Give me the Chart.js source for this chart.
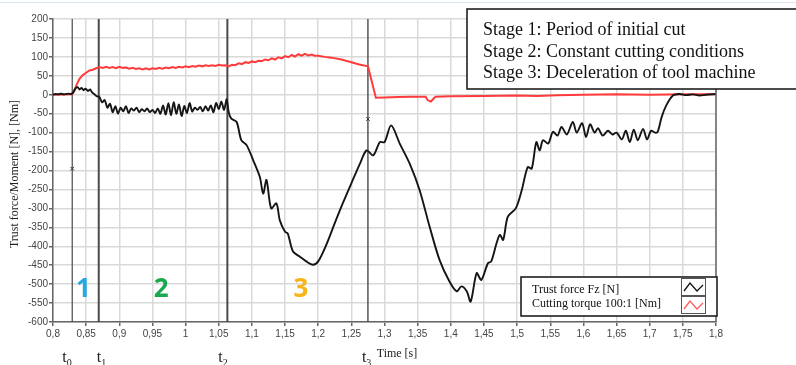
<!DOCTYPE html>
<html>
<head>
<meta charset="utf-8">
<script src="https://cdn.jsdelivr.net/npm/chart.js@4"></script>
<style>
  body { margin: 0; background: #fff; }
  #wrap { position: relative; width: 796px; height: 365px; }
</style>
</head>
<body>
<div id="wrap"><canvas id="forceChart"></canvas></div>
<script>
// Thrust force Fz [N] - time [s] / value
const forceTime = [
  0.800, 0.804, 0.808, 0.812, 0.816, 0.820, 0.824, 0.828, 0.831, 0.834, 0.837, 0.840, 0.843, 0.846,
  0.849, 0.853, 0.856, 0.859, 0.862, 0.866, 0.870, 0.874, 0.878, 0.882, 0.886, 0.890, 0.894, 0.898,
  0.902, 0.906, 0.910, 0.914, 0.918, 0.922, 0.926, 0.930, 0.934, 0.938, 0.942, 0.946, 0.950, 0.954,
  0.958, 0.962, 0.966, 0.970, 0.974, 0.978, 0.982, 0.986, 0.990, 0.994, 0.998, 1.002, 1.006, 1.010,
  1.014, 1.018, 1.022, 1.026, 1.030, 1.034, 1.038, 1.042, 1.046, 1.050, 1.054, 1.058, 1.062, 1.065,
  1.069, 1.077, 1.084, 1.092, 1.102, 1.112, 1.117, 1.122, 1.129, 1.137, 1.142, 1.150, 1.154, 1.162,
  1.172, 1.182, 1.192, 1.200, 1.212, 1.225, 1.237, 1.250, 1.263, 1.273, 1.283, 1.293, 1.300, 1.310,
  1.323, 1.338, 1.353, 1.368, 1.383, 1.398, 1.409, 1.416, 1.424, 1.430, 1.439, 1.446, 1.456, 1.461,
  1.469, 1.474, 1.479, 1.486, 1.498, 1.507, 1.516, 1.522, 1.529, 1.534, 1.539, 1.547, 1.554, 1.561,
  1.567, 1.575, 1.584, 1.590, 1.598, 1.604, 1.610, 1.617, 1.622, 1.629, 1.637, 1.644, 1.650, 1.658,
  1.664, 1.670, 1.676, 1.682, 1.690, 1.696, 1.702, 1.708, 1.712, 1.718, 1.725, 1.735, 1.745, 1.755,
  1.765, 1.775, 1.785, 1.800
];
const forceValues = [
  0, 2, 1, 3, 1, 2, 3, 2, 8, 17, 20, 14, 18, 12,
  16, 10, 14, 6, 2, -4, -6, -20, -14, -34, -24, -46, -30, -50,
  -34, -44, -30, -48, -36, -42, -34, -46, -38, -44, -36, -46, -40, -48,
  -36, -50, -28, -52, -22, -54, -20, -50, -26, -56, -30, -48, -22, -44,
  -34, -40, -32, -44, -30, -42, -28, -46, -22, -38, -18, -40, -12, -46,
  -63, -72, -120, -133, -173, -217, -261, -225, -300, -287, -331, -362, -366, -414,
  -427, -440, -449, -440, -397, -339, -287, -234, -182, -147, -160, -125, -125, -81,
  -129, -182, -252, -348, -436, -493, -519, -506, -519, -546, -471, -489, -445, -440,
  -392, -370, -383, -322, -300, -252, -191, -195, -125, -147, -120, -129, -98, -108,
  -85, -105, -72, -100, -75, -112, -78, -100, -88, -108, -95, -105, -100, -118,
  -95, -125, -92, -120, -90, -118, -95, -100, -98, -59, -28, -2, 2, -1,
  1, -2, 0, 2
];

// Cutting torque 100:1 [Nm] - time [s] / value
const torqueTime = [
  0.800, 0.829, 0.832, 0.836, 0.840, 0.845, 0.850, 0.855, 0.860, 0.865,
  0.870, 0.875, 0.880, 0.885, 0.890, 0.895, 0.900, 0.905, 0.910, 0.915, 0.920, 0.925, 0.930, 0.935,
  0.940, 0.945, 0.950, 0.955, 0.960, 0.965, 0.970, 0.975, 0.980, 0.985, 0.990, 0.995, 1.000, 1.005,
  1.010, 1.015, 1.020, 1.025, 1.030, 1.035, 1.040, 1.045, 1.050, 1.055, 1.060, 1.065, 1.070, 1.075,
  1.080, 1.085, 1.090, 1.095, 1.100, 1.105, 1.110, 1.115, 1.120, 1.125, 1.130, 1.135, 1.140, 1.145,
  1.150, 1.155, 1.160, 1.165, 1.170, 1.175, 1.180, 1.185, 1.190, 1.195, 1.200, 1.210, 1.220, 1.235,
  1.250, 1.262, 1.275, 1.287, 1.300, 1.320, 1.340, 1.362, 1.365, 1.370, 1.374, 1.377, 1.400, 1.450,
  1.500, 1.530, 1.560, 1.600, 1.650, 1.700, 1.750, 1.800
];
const torqueValues = [
  0, 1, 10, 28, 42, 52, 58, 64, 66, 70,
  73, 71, 74, 71, 73, 70, 74, 71, 72, 69, 71, 68, 70, 67,
  70, 67, 70, 68, 71, 69, 72, 70, 73, 71, 74, 72, 75, 73,
  76, 74, 77, 75, 78, 76, 78, 76, 79, 77, 78, 75, 79, 78,
  83, 81, 86, 84, 88, 86, 90, 89, 93, 91, 96, 93, 99, 96,
  102, 99, 105, 101, 107, 103, 108, 104, 106, 103, 103, 100, 98, 93,
  86, 80, 75, -8, -7, -6, -5, -5, -14, -18, -10, -5, -4, -3,
  -2, -3, -1, 0, 1, 0, 1, 1
];

// stage boundaries t0..t3 and the two small cross marks
const stageNames = ['0', '1', '2', '3'];
const stageTimes = [0.829, 0.869, 1.063, 1.275];
const markTimes = [0.829, 1.275];
const markValues = [-195, -64];

const stageText = [
  'Stage 1: Period of initial cut',
  'Stage 2: Constant cutting conditions',
  'Stage 3: Deceleration of tool machine'
];
const legendText = ['Trust force Fz [N]', 'Cutting torque 100:1 [Nm]'];

const xMin = 0.8, xMax = 1.8, xStep = 0.05;
const yMin = -600, yMax = 200, yStep = 50;

const tickFont = { family: "'Liberation Sans Narrow', 'Arial Narrow', 'Liberation Sans', sans-serif", size: 10 };
const serif = "'Liberation Serif', 'Times New Roman', serif";

function toPoints(xs, ys) {
  return xs.map((x, i) => ({ x: x, y: ys[i] }));
}

// stage lines go through the whole plot height
const stageLineSets = stageTimes.map((t, i) => ({
  data: [{ x: t, y: yMin }, { x: t, y: yMax }],
  borderColor: '#4a4a4a',
  borderWidth: i === 0 ? 1.2 : (i === 3 ? 1.4 : 2),
  pointRadius: 0
}));

// Draws the texts, boxes and labels that are not part of the axes
const decorPlugin = {
  id: 'decor',
  beforeDraw(chart) {
    const ctx = chart.ctx;
    ctx.save();
    ctx.fillStyle = '#dbe6f3';
    ctx.fillRect(0, 2, chart.width, 1);
    ctx.restore();
  },
  afterDraw(chart) {
    const ctx = chart.ctx;
    const area = chart.chartArea;
    const xs = chart.scales.x;
    ctx.save();

    // right border of the plot
    ctx.strokeStyle = '#666';
    ctx.lineWidth = 1.5;
    ctx.beginPath();
    ctx.moveTo(area.right, area.top);
    ctx.lineTo(area.right, area.bottom);
    ctx.stroke();

    // y axis title
    ctx.fillStyle = '#222';
    ctx.font = '12px ' + serif;
    ctx.textAlign = 'center';
    ctx.textBaseline = 'middle';
    ctx.save();
    ctx.translate(15, 174);
    ctx.rotate(-Math.PI / 2);
    ctx.fillText('Trust force/Moment [N], [Nm]', 0, 0);
    ctx.restore();

    // x axis title
    ctx.textBaseline = 'alphabetic';
    ctx.fillText('Time [s]', 397, 357);

    // t0..t3 labels under the axis
    const tOffsets = [-10, -2, -9, -6];
    ctx.textAlign = 'left';
    stageTimes.forEach((t, i) => {
      const px = xs.getPixelForValue(t) + tOffsets[i];
      ctx.font = '16px ' + serif;
      ctx.fillText('t', px, 362);
      const w = ctx.measureText('t').width;
      ctx.font = '10px ' + serif;
      ctx.fillText(stageNames[i], px + w, 366);
    });

    // stage numbers
    ctx.font = "bold 26px 'Open Sans', 'Liberation Sans', sans-serif";
    ctx.textAlign = 'center';
    ctx.textBaseline = 'middle';
    const numColors = ['#26a9e0', '#1aa84f', '#f9b31b'];
    const numTimes = [0.846, 0.963, 1.174];
    numTimes.forEach((t, i) => {
      ctx.fillStyle = numColors[i];
      ctx.fillText(String(i + 1), xs.getPixelForValue(t), 290);
    });

    // stage description box
    ctx.fillStyle = '#fff';
    ctx.fillRect(467, 9, 340, 80);
    ctx.strokeStyle = '#111';
    ctx.lineWidth = 1.5;
    ctx.strokeRect(467, 9, 340, 80);
    ctx.fillStyle = '#111';
    ctx.font = '18px ' + serif;
    ctx.textAlign = 'left';
    ctx.textBaseline = 'alphabetic';
    const stageBase = [35, 56.5, 78];
    stageText.forEach((s, i) => ctx.fillText(s, 483, stageBase[i]));

    // legend box
    ctx.fillStyle = '#fff';
    ctx.fillRect(521, 277, 196, 39);
    ctx.strokeRect(521, 277, 196, 39);
    ctx.fillStyle = '#111';
    ctx.font = '12px ' + serif;
    ctx.fillText(legendText[0], 532, 293);
    ctx.fillText(legendText[1], 532, 307);
    const icons = [{ top: 278, color: '#111' }, { top: 296, color: '#ff5a5a' }];
    icons.forEach(ic => {
      ctx.strokeStyle = '#555';
      ctx.lineWidth = 1;
      ctx.strokeRect(681.5, ic.top + 0.5, 24, 17);
      ctx.strokeStyle = ic.color;
      ctx.lineWidth = 1.3;
      ctx.beginPath();
      ctx.moveTo(684, ic.top + 13);
      ctx.lineTo(690, ic.top + 5);
      ctx.lineTo(697, ic.top + 13);
      ctx.lineTo(703, ic.top + 7);
      ctx.stroke();
    });

    ctx.restore();
  }
};

new Chart(document.getElementById('forceChart'), {
  type: 'line',
  data: {
    datasets: [
      {
        label: legendText[0],
        data: toPoints(forceTime, forceValues),
        borderColor: '#151515',
        borderWidth: 1.9,
        tension: 0.3,
        pointRadius: 0
      },
      {
        label: legendText[1],
        data: toPoints(torqueTime, torqueValues),
        borderColor: '#ff3b3b',
        borderWidth: 2,
        pointRadius: 0
      },
      {
        type: 'scatter',
        data: toPoints(markTimes, markValues),
        pointStyle: 'crossRot',
        pointRadius: 2.5,
        borderColor: '#333',
        borderWidth: 1
      },
      ...stageLineSets
    ]
  },
  options: {
    responsive: true,
    maintainAspectRatio: false,
    animation: false,
    layout: { padding: { left: 0, right: 80, top: 19, bottom: 0 } },
    plugins: { legend: { display: false }, tooltip: { enabled: false } },
    scales: {
      x: {
        type: 'linear',
        min: xMin,
        max: xMax,
        afterFit: s => { s.height = 43; },
        grid: { color: '#d9d9d9', lineWidth: 1.5, tickLength: 4, tickColor: '#666' },
        border: { color: '#666', width: 1.5 },
        ticks: {
          stepSize: xStep,
          autoSkip: false,
          maxRotation: 0,
          padding: 2,
          color: '#444',
          font: tickFont,
          callback: v => String(Number(v.toFixed(2))).replace('.', ',')
        }
      },
      y: {
        min: yMin,
        max: yMax,
        afterFit: s => { s.width = 53; },
        grid: { color: '#d9d9d9', lineWidth: 1.5, tickLength: 4, tickColor: '#666' },
        border: { color: '#666', width: 1.5 },
        ticks: { stepSize: yStep, padding: 1, color: '#444', font: tickFont }
      }
    }
  },
  plugins: [decorPlugin]
});
</script>
</body>
</html>
